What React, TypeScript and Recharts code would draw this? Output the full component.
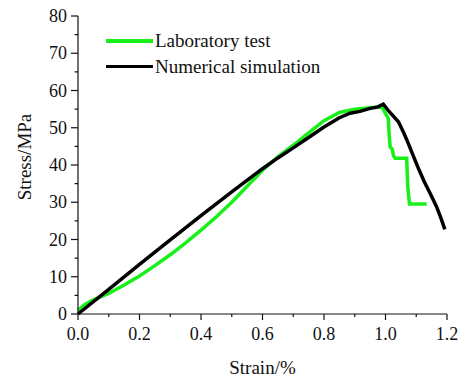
import { LineChart, Line, XAxis, YAxis, Legend } from "recharts";

// laboratory test curve (green)
const labStrain = [
  0, 0.02, 0.05, 0.1, 0.15, 0.2, 0.25, 0.3, 0.35, 0.4, 0.45, 0.5, 0.55, 0.6,
  0.65, 0.7, 0.75, 0.8, 0.85, 0.9, 0.95, 0.988, 1.009, 1.012, 1.015, 1.022,
  1.026, 1.031, 1.069, 1.072, 1.078, 1.134,
];
const labStress = [
  1.0, 2.4, 3.8, 5.5, 7.8, 10.2, 13.0, 15.9, 19.1, 22.5, 26.1, 30.0, 34.3,
  38.6, 42.2, 45.3, 48.6, 51.9, 54.1, 55.0, 55.4, 55.6, 52.5, 48.0, 44.9, 44.2,
  42.5, 41.8, 41.8, 34.6, 29.5, 29.5,
];

// numerical simulation curve (black)
const simStrain = [
  0, 0.1, 0.2, 0.3, 0.4, 0.5, 0.6, 0.65, 0.7, 0.75, 0.8, 0.85, 0.885, 0.917,
  0.95, 0.975, 0.993, 1.01, 1.042, 1.06, 1.074, 1.09, 1.107, 1.125, 1.145,
  1.166, 1.18, 1.193,
];
const simStress = [
  0, 6.6, 13.3, 19.9, 26.4, 32.8, 39.0, 41.9, 44.6, 47.4, 50.2, 52.7, 53.9,
  54.4, 55.2, 55.6, 56.3, 54.5, 51.6, 48.5, 45.8, 42.5, 39.1, 35.7, 32.4, 28.8,
  25.8, 22.7,
];

const strainTicks = [0, 0.1, 0.2, 0.3, 0.4, 0.5, 0.6, 0.7, 0.8, 0.9, 1.0, 1.1, 1.2];
const stressTicks = [0, 5, 10, 15, 20, 25, 30, 35, 40, 45, 50, 55, 60, 65, 70, 75, 80];

const labData = labStrain.map((s, i) => ({ strain: s, stress: labStress[i] }));
const simData = simStrain.map((s, i) => ({ strain: s, stress: simStress[i] }));

const FONT = '"Liberation Serif", "Times New Roman", serif';
const GREEN = "#19f019";

const Y_TICK_SIZE = 7;
const Y_TICK_MARGIN = 4;
const X_TICK_SIZE = 6;
const X_TICK_MARGIN = 4;

function StressTick(props: any) {
  const { x, y, payload } = props;
  const axisX = x + Y_TICK_SIZE + Y_TICK_MARGIN;
  const major = payload.value % 10 === 0;
  return (
    <g>
      <line x1={axisX - (major ? 7 : 3.5)} x2={axisX} y1={y} y2={y} stroke="#111" strokeWidth={1.2} />
      {major && (
        <text x={x} y={y} dy="0.34em" textAnchor="end" fontSize={18} fontFamily={FONT} fill="#111">
          {payload.value}
        </text>
      )}
    </g>
  );
}

function StrainTick(props: any) {
  const { x, y, payload } = props;
  const axisY = y - X_TICK_SIZE - X_TICK_MARGIN;
  const major = Math.round(payload.value * 10) % 2 === 0;
  return (
    <g>
      <line x1={x} x2={x} y1={axisY} y2={axisY + (major ? 6 : 3)} stroke="#111" strokeWidth={1.2} />
      {major && (
        <text x={x} y={axisY + 26} textAnchor="middle" fontSize={18} fontFamily={FONT} fill="#111">
          {payload.value.toFixed(1)}
        </text>
      )}
    </g>
  );
}

function LegendBox(props: any) {
  const { payload } = props;
  return (
    <div style={{ fontFamily: FONT, fontSize: 19, color: "#111" }}>
      {payload.map((p: any) => (
        <div key={p.value} style={{ display: "flex", alignItems: "center", height: 25.7 }}>
          <span style={{ display: "inline-block", width: 47, height: 3.5, background: p.color }} />
          <span style={{ marginLeft: 2, lineHeight: "25.7px" }}>{p.value}</span>
        </div>
      ))}
    </div>
  );
}

export default function App() {
  return (
    <div style={{ position: "absolute", left: 0, top: 0, background: "#fff" }}>
      <LineChart width={470} height={378} margin={{ top: 16, right: 23, bottom: 0, left: 0 }}>
        <XAxis
          type="number"
          dataKey="strain"
          domain={[0, 1.2]}
          ticks={strainTicks}
          interval={0}
          height={64}
          tickSize={X_TICK_SIZE}
          tickMargin={X_TICK_MARGIN}
          tickLine={false}
          tick={<StrainTick />}
          axisLine={{ stroke: "#111", strokeWidth: 1.2 }}
          label={{
            content: (p: any) => (
              <text
                x={p.viewBox.x + p.viewBox.width / 2}
                y={p.viewBox.y + 60}
                textAnchor="middle"
                fontSize={19}
                fontFamily={FONT}
                fill="#111"
              >
                Strain/%
              </text>
            ),
          }}
        />
        <YAxis
          type="number"
          domain={[0, 80]}
          ticks={stressTicks}
          interval={0}
          width={78}
          tickSize={Y_TICK_SIZE}
          tickMargin={Y_TICK_MARGIN}
          tickLine={false}
          tick={<StressTick />}
          axisLine={{ stroke: "#111", strokeWidth: 1.2 }}
          label={{
            content: (p: any) => {
              const cx = p.viewBox.x + 31;
              const cy = p.viewBox.y + p.viewBox.height / 2 - 8;
              return (
                <text
                  x={cx}
                  y={cy}
                  transform={`rotate(-90, ${cx}, ${cy})`}
                  textAnchor="middle"
                  fontSize={19}
                  fontFamily={FONT}
                  fill="#111"
                >
                  Stress/MPa
                </text>
              );
            },
          }}
        />
        <Legend
          layout="vertical"
          align="center"
          verticalAlign="middle"
          wrapperStyle={{ left: 106, top: 28, width: "auto" }}
          content={<LegendBox />}
        />
        <Line
          data={labData}
          dataKey="stress"
          name="Laboratory test"
          type="linear"
          stroke={GREEN}
          strokeWidth={3.5}
          dot={false}
          isAnimationActive={false}
        />
        <Line
          data={simData}
          dataKey="stress"
          name="Numerical simulation"
          type="linear"
          stroke="#000"
          strokeWidth={3.5}
          dot={false}
          isAnimationActive={false}
        />
      </LineChart>
    </div>
  );
}
